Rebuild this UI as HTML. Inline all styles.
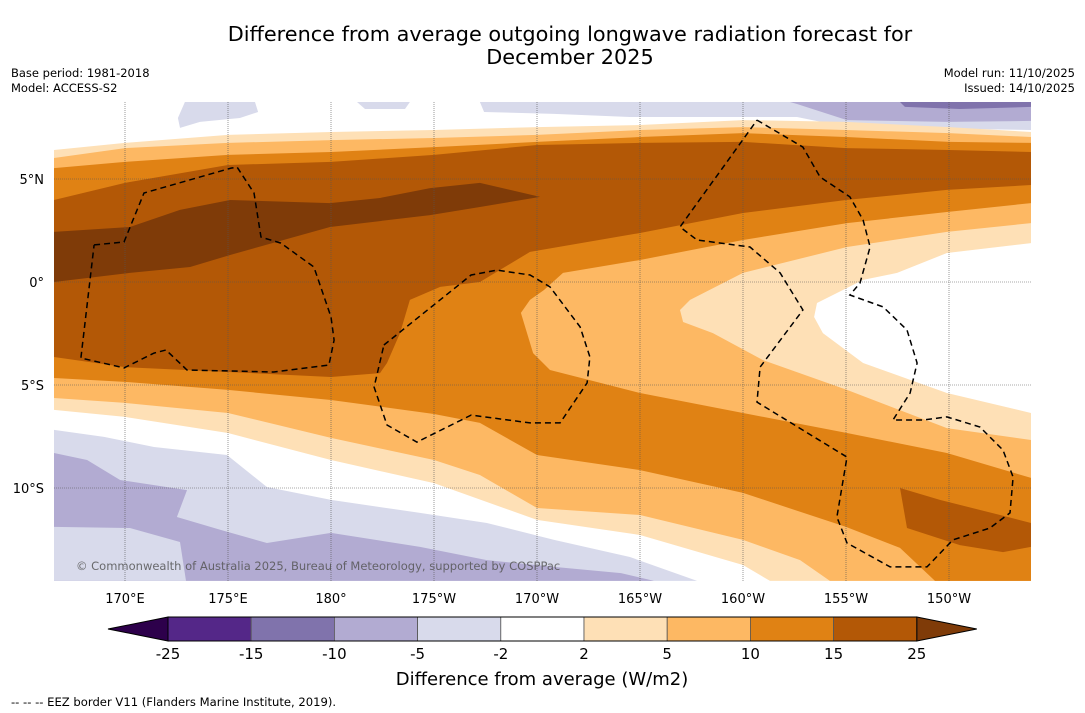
<!DOCTYPE html>
<html><head><meta charset="utf-8">
<style>
html,body{margin:0;padding:0;background:#fff;}
body{width:1085px;height:713px;overflow:hidden;font-family:"DejaVu Sans","Liberation Sans",sans-serif;}
svg{display:block;}
</style></head>
<body>
<svg id="chart" width="1085" height="713" viewBox="0 0 1085 713" xmlns="http://www.w3.org/2000/svg" font-family="DejaVu Sans, Liberation Sans, sans-serif">
  <text x="570" y="41" font-size="20.8" text-anchor="middle" fill="#000">Difference from average outgoing longwave radiation forecast for</text>
  <text x="570" y="64" font-size="20.8" text-anchor="middle" fill="#000">December 2025</text>
  <text x="11" y="77" font-size="11.5">Base period: 1981-2018</text>
  <text x="11" y="92" font-size="11.5">Model: ACCESS-S2</text>
  <text x="1075" y="77" font-size="11.5" text-anchor="end">Model run: 11/10/2025</text>
  <text x="1075" y="92" font-size="11.5" text-anchor="end">Issued: 14/10/2025</text>
  <defs><clipPath id="mapclip"><rect x="54" y="102" width="977" height="479"/></clipPath></defs>
  <g id="map" clip-path="url(#mapclip)"></g>
  <g id="axes"></g>
  <g id="cbar"></g>
  <text x="542" y="685" font-size="18" text-anchor="middle">Difference from average (W/m2)</text>
  <text x="11" y="706" font-size="11.6">--  --  -- EEZ border V11 (Flanders Marine Institute, 2019).</text>
</svg>
<script>
// ---- data (lon in degrees east, lat in degrees) ----
const gridLons = [166.55,170,175,180,185,190,195,200,205,210,213.98];
const line2Top  = [6.41,6.75,7.14,7.28,7.38,7.52,7.62,7.86,7.77,7.52,7.28];
const line5Top  = [6.02,6.50,6.75,6.89,6.99,7.14,7.38,7.52,7.38,7.23,7.04];
const line10Top = [5.53,5.83,6.17,6.31,6.55,6.80,7.04,7.23,7.04,6.80,6.75];
const line15Top = [3.98,4.81,5.68,5.83,6.17,6.65,6.75,6.80,6.50,6.41,6.31];
const bottom2  = [[213.98,-14.51],[201.31,-14.51],[200,-13.74],[195,-12.28],[190,-11.55],[185,-9.76],[180,-8.64],[175,-7.33],[170,-6.55],[166.55,-6.21]];
const bottom5  = [[213.98,-14.51],[204.22,-14.51],[202.77,-13.50],[200,-12.52],[195,-11.31],[190,-10.97],[187.23,-9.37],[185,-8.64],[180,-7.57],[175,-6.36],[170,-5.87],[166.55,-5.63]];
const bottom10 = [[213.98,-14.51],[209.32,-14.51],[207.62,-12.91],[205,-11.89],[200,-10.24],[195,-9.13],[190,-8.40],[187.23,-6.84],[185,-6.41],[180,-5.73],[175,-5.24],[170,-4.85],[166.55,-4.66]];
const bottom15 = [[213.98,4.71],[209.9,4.47],[205,3.98],[200,3.35],[195,2.38],[189.66,1.46],[187.23,0],[185.3,-0.24],[183.83,-0.87],[183.35,-2.48],[182.72,-3.93],[182.38,-4.42],[180,-4.61],[175,-4.37],[170,-4.13],[166.55,-3.64]];
const region25 = [[166.55,2.43],[170.24,2.67],[172.67,3.50],[175.10,3.98],[179.95,3.83],[182.38,4.08],[184.81,4.56],[187.23,4.81],[190.15,4.13],[187.23,3.64],[184.81,3.25],[179.95,2.67],[175.10,1.31],[173.16,0.73],[170.24,0.44],[166.55,0]];
const blob15SE = [[207.62,-10.0],[209.56,-10.58],[212.48,-11.31],[213.98,-11.70],[213.98,-12.86],[212.62,-13.11],[210.53,-12.77],[207.96,-11.94]];
const tongue5 = [[213.98,3.83],[209.90,3.40],[205.05,2.86],[200,2.04],[195,1.07],[191.26,0.44],[190.34,-0.39],[189.66,-0.87],[189.22,-1.50],[189.81,-3.45],[190.63,-4.27],[195,-5.39],[200,-6.36],[205.05,-7.33],[209.90,-8.30],[213.98,-9.51]];
const tongue2 = [[213.98,2.86],[209.90,2.43],[205.05,1.70],[200,0.44],[197.43,-0.87],[196.94,-1.36],[197.09,-1.94],[198.54,-2.48],[200.97,-3.79],[205.05,-5.24],[209.90,-7.09],[213.98,-7.67]];
const tongueWhite = [[213.98,1.89],[209.90,1.41],[207.48,0.44],[205.83,0.10],[203.59,-1.02],[203.45,-1.70],[203.88,-2.48],[205.83,-3.93],[209.90,-5.39],[213.98,-6.36]];
const south5neg = [[166.55,-7.18],[168.98,-7.52],[171.41,-8.01],[174.95,-8.40],[176.89,-9.95],[180,-10.58],[184.32,-11.21],[187.57,-11.70],[190.83,-12.52],[194.51,-13.35],[197.77,-14.51],[166.55,-14.51]];
const south10neg = [[166.55,-8.30],[168.16,-8.64],[169.76,-9.61],[173.01,-10.10],[172.52,-11.41],[174.66,-12.04],[176.89,-12.67],[180,-12.18],[184.32,-12.86],[187.57,-13.50],[190.83,-13.83],[194.08,-14.13],[195.68,-14.51],[166.55,-14.51]];
const southBlob5neg = [[166.55,-11.89],[170.24,-11.94],[172.67,-12.62],[172.96,-14.51],[166.55,-14.51]];
const northBlobA = [[172.91,8.74],[172.57,7.96],[172.67,7.48],[173.64,7.77],[175.58,7.96],[176.46,8.25],[176.31,8.74]];
const northBlobB = [[181.26,8.74],[181.65,8.40],[183.59,8.40],[183.83,8.74]];
const northStrip5neg = [[187.23,8.74],[187.43,8.25],[190.83,8.16],[194.51,8.01],[202.62,8.01],[205.05,7.52],[213.98,7.38],[213.98,8.74]];
const northStrip10neg = [[202.28,8.74],[202.62,8.64],[205.05,7.86],[209.90,7.77],[213.98,7.82],[213.98,8.74]];
const northStrip15neg = [[207.62,8.74],[207.86,8.50],[210.53,8.40],[213.98,8.50],[213.98,8.74]];
const eezWest = [[168.50,1.80],[169.95,1.94],[170.92,4.32],[175.15,5.53],[175.44,5.58],[176.26,4.32],[176.60,2.18],[177.57,1.89],[179.17,0.73],[180,-1.70],[180.15,-2.82],[179.90,-4.03],[177.23,-4.37],[173.01,-4.27],[171.99,-3.30],[171.41,-3.45],[169.95,-4.17],[167.86,-3.69],[168.50,1.80]];
const eezMid = [[182.57,-3.06],[186.80,0.34],[188.06,0.58],[189.66,0.34],[190.63,-0.24],[192.09,-2.18],[192.57,-3.64],[192.43,-4.90],[191.12,-6.84],[189.66,-6.84],[186.80,-6.46],[184.17,-7.77],[182.72,-6.94],[182.09,-5.10],[182.57,-3.06]];
const eezEast = [[200.68,7.86],[202.91,6.55],[203.74,5.10],[205.19,4.13],[205.83,3.01],[206.17,1.70],[205.68,-0.05],[205.19,-0.63],[206.80,-1.21],[207.96,-2.33],[208.45,-3.93],[208.11,-5.39],[207.28,-6.70],[208.74,-6.70],[209.90,-6.55],[211.50,-7.04],[212.62,-8.16],[213.11,-9.47],[212.96,-11.21],[211.99,-11.94],[210.19,-12.52],[208.93,-13.83],[207.14,-13.83],[205.05,-12.67],[204.56,-11.41],[205.05,-8.50],[200.68,-5.83],[200.83,-4.13],[202.91,-1.36],[201.80,0.44],[200.34,1.70],[197.77,2.04],[196.94,2.67],[200.68,7.86]];
const lonTicks = [170,175,180,185,190,195,200,205,210];
const lonTickLabels = ["170°E","175°E","180°","175°W","170°W","165°W","160°W","155°W","150°W"];
const latTicks = [5,0,-5,-10];
const latTickLabels = ["5°N","0°","5°S","10°S"];
const cbarLevels = [-25,-15,-10,-5,-2,2,5,10,15,25];
const cbarColors = ["#542788","#8073ac","#b2abd2","#d8daeb","#ffffff","#fee0b6","#fdb863","#e08214","#b35806"];
const cbarMinColor = "#2d004b";
const cbarMaxColor = "#7f3b08";

// ---- scales ----
const X = lon => 331 + (lon - 180) * 20.6;
const Y = lat => 282 - lat * 20.6;
const NS = "http://www.w3.org/2000/svg";
const mapG = document.getElementById('map');
const axG = document.getElementById('axes');
const cbG = document.getElementById('cbar');
function pts(arr){ return arr.map(p => X(p[0]).toFixed(1)+','+Y(p[1]).toFixed(1)).join(' '); }
function lineToPts(lats){ return gridLons.map((l,i)=>[l,lats[i]]); }
function poly(parent, arr, fill, name){
  const e = document.createElementNS(NS,'polygon');
  e.setAttribute('points', pts(arr));
  e.setAttribute('fill', fill);
  
  
  parent.appendChild(e);
  return e;
}
const bg = document.createElementNS(NS,'rect');
bg.setAttribute('x',54); bg.setAttribute('y',102); bg.setAttribute('width',977); bg.setAttribute('height',479); bg.setAttribute('fill','#fff');


mapG.appendChild(bg);

poly(mapG, south5neg, '#d8daeb', 'contour-minus5-south');
poly(mapG, south10neg, '#b2abd2', 'contour-minus10-south');
poly(mapG, southBlob5neg, '#d8daeb', 'contour-minus5-southwest-blob');
poly(mapG, northBlobA, '#d8daeb', 'contour-minus5-north-blob');
poly(mapG, northBlobB, '#d8daeb', 'contour-minus5-north-blob-2');
poly(mapG, northStrip5neg, '#d8daeb', 'contour-minus5-north-strip');
poly(mapG, northStrip10neg, '#b2abd2', 'contour-minus10-north-strip');
poly(mapG, northStrip15neg, '#8073ac', 'contour-minus15-north-strip');
poly(mapG, lineToPts(line2Top).concat(bottom2), '#fee0b6', 'contour-plus2-band');
poly(mapG, lineToPts(line5Top).concat(bottom5), '#fdb863', 'contour-plus5-band');
poly(mapG, lineToPts(line10Top).concat(bottom10), '#e08214', 'contour-plus10-band');
poly(mapG, lineToPts(line15Top).concat(bottom15), '#b35806', 'contour-plus15-band');
poly(mapG, region25, '#7f3b08', 'contour-plus25-region');
poly(mapG, tongue5, '#fdb863', 'contour-plus5-tongue');
poly(mapG, tongue2, '#fee0b6', 'contour-plus2-tongue');
poly(mapG, tongueWhite, '#ffffff', 'contour-neutral-tongue');
poly(mapG, blob15SE, '#b35806', 'contour-plus15-southeast-blob');

// gridlines
lonTicks.forEach((lon,i)=>{
  const l = document.createElementNS(NS,'line');
  l.setAttribute('x1',X(lon)); l.setAttribute('x2',X(lon)); l.setAttribute('y1',102); l.setAttribute('y2',581);
  l.setAttribute('stroke','#555'); l.setAttribute('stroke-width','0.6'); l.setAttribute('stroke-dasharray','1,1');
  
  
  mapG.appendChild(l);
  const t = document.createElementNS(NS,'text');
  t.setAttribute('x',X(lon)); t.setAttribute('y',603); t.setAttribute('font-size','13'); t.setAttribute('text-anchor','middle');
  t.textContent = lonTickLabels[i];
  
  
  axG.appendChild(t);
});
latTicks.forEach((lat,i)=>{
  const l = document.createElementNS(NS,'line');
  l.setAttribute('x1',54); l.setAttribute('x2',1031); l.setAttribute('y1',Y(lat)); l.setAttribute('y2',Y(lat));
  l.setAttribute('stroke','#555'); l.setAttribute('stroke-width','0.6'); l.setAttribute('stroke-dasharray','1,1');
  
  
  mapG.appendChild(l);
  const t = document.createElementNS(NS,'text');
  t.setAttribute('x',44); t.setAttribute('y',Y(lat)+5); t.setAttribute('font-size','13'); t.setAttribute('text-anchor','end');
  t.textContent = latTickLabels[i];
  
  
  axG.appendChild(t);
});
// EEZ borders
[[eezWest,'eez-border-west'],[eezMid,'eez-border-middle'],[eezEast,'eez-border-east']].forEach(([arr,name])=>{
  const e = document.createElementNS(NS,'polyline');
  e.setAttribute('points', pts(arr));
  e.setAttribute('fill','none'); e.setAttribute('stroke','#000'); e.setAttribute('stroke-width','1.5'); e.setAttribute('stroke-dasharray','6,4');
  
  
  mapG.appendChild(e);
});
// copyright
const cp = document.createElementNS(NS,'text');
cp.setAttribute('x',76); cp.setAttribute('y',570); cp.setAttribute('font-size','11.5'); cp.setAttribute('fill','#555'); cp.setAttribute('fill-opacity','0.85');
cp.textContent = '© Commonwealth of Australia 2025, Bureau of Meteorology, supported by COSPPac';


mapG.appendChild(cp);

// colorbar
const CB_X0 = 168, CB_W = 83.2, CB_Y = 617, CB_H = 24;
const CX = i => CB_X0 + i * CB_W;
const tl = document.createElementNS(NS,'polygon');
tl.setAttribute('points', `${CX(0)},${CB_Y} ${CX(0)-60},${CB_Y+CB_H/2} ${CX(0)},${CB_Y+CB_H}`);
tl.setAttribute('fill', cbarMinColor); tl.setAttribute('stroke','#000'); tl.setAttribute('stroke-width','1');


cbG.appendChild(tl);
const last = cbarLevels.length-1;
const tr = document.createElementNS(NS,'polygon');
tr.setAttribute('points', `${CX(last)},${CB_Y} ${CX(last)+60},${CB_Y+CB_H/2} ${CX(last)},${CB_Y+CB_H}`);
tr.setAttribute('fill', cbarMaxColor); tr.setAttribute('stroke','#000'); tr.setAttribute('stroke-width','1');


cbG.appendChild(tr);
cbarColors.forEach((c,i)=>{
  const r = document.createElementNS(NS,'rect');
  r.setAttribute('x',CX(i)); r.setAttribute('y',CB_Y); r.setAttribute('width',CB_W); r.setAttribute('height',CB_H);
  r.setAttribute('fill',c); r.setAttribute('stroke','#555'); r.setAttribute('stroke-width','0.8');
  
  
  cbG.appendChild(r);
});
const ol = document.createElementNS(NS,'rect');
ol.setAttribute('x',CX(0)); ol.setAttribute('y',CB_Y); ol.setAttribute('width',CX(last)-CX(0)); ol.setAttribute('height',CB_H);
ol.setAttribute('fill','none'); ol.setAttribute('stroke','#000'); ol.setAttribute('stroke-width','1');


cbG.appendChild(ol);
cbarLevels.forEach((v,i)=>{
  const t = document.createElementNS(NS,'text');
  t.setAttribute('x',CX(i)); t.setAttribute('y',659); t.setAttribute('font-size','15'); t.setAttribute('text-anchor','middle');
  t.textContent = String(v);
  
  
  cbG.appendChild(t);
});
</script>
</body></html>
